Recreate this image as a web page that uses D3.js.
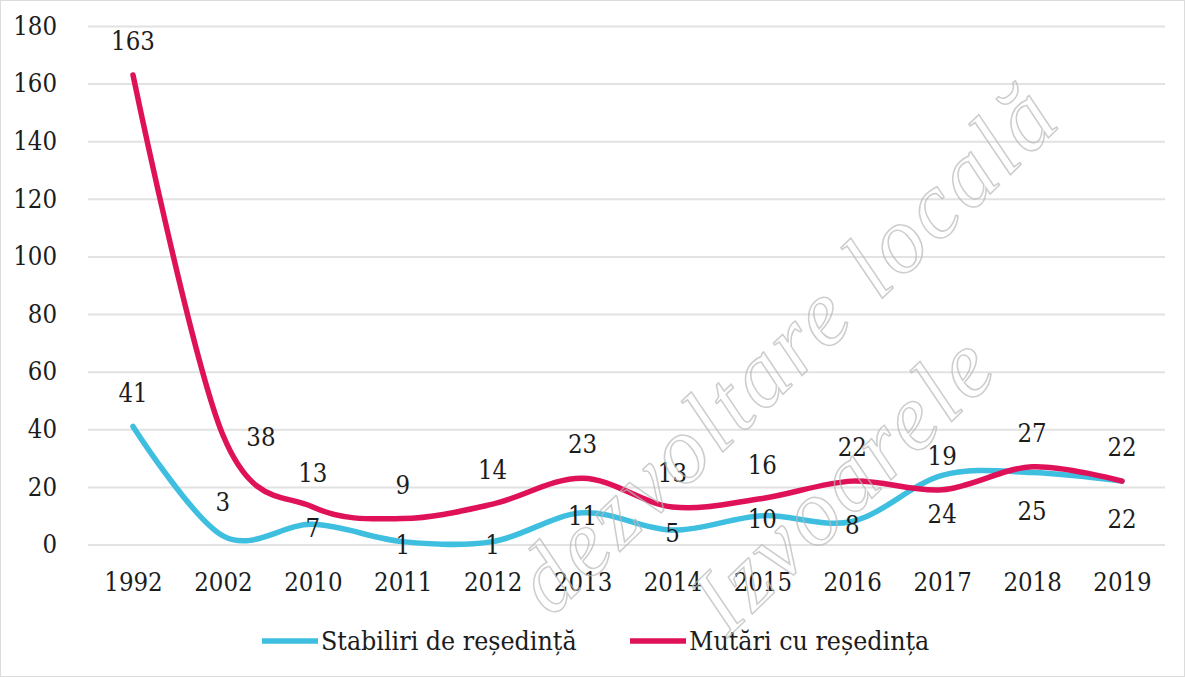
<!DOCTYPE html>
<html>
<head>
<meta charset="utf-8">
<script src="https://cdn.jsdelivr.net/npm/d3@7"></script>
<style>
  body { margin: 0; background: #fff; }
  svg { display: block; }
</style>
</head>
<body>
<div id="chart"></div>
<script>
(function() {
  'use strict';
  var years = ['1992', '2002', '2010', '2011', '2012', '2013', '2014', '2015', '2016', '2017', '2018', '2019'],
      stabiliri = [41, 3, 7, 1, 1, 11, 5, 10, 8, 24, 25, 22],
      mutari = [163, 38, 13, 9, 14, 23, 13, 16, 22, 19, 27, 22],
      yTicks = [0, 20, 40, 60, 80, 100, 120, 140, 160, 180],
      seriesNames = ['Stabiliri de reședință', 'Mutări cu reședința'];

  var width = 1185,
      height = 677,
      font = '"DejaVu Serif Condensed", "DejaVu Serif", serif',
      textColor = '#1c1c1c',
      colors = ['#3fbfe0', '#df1259'];

  var svg = d3.select('#chart').append('svg')
    .attr('width', width)
    .attr('height', height);

  var x = d3.scalePoint().domain(years).range([133, 1122]),
      y = d3.scaleLinear().domain([0, 180]).range([544.5, 26]);

  // Gridlines + y labels
  var grid = svg.append('g')
    .attr('transform', 'translate(88,0)')
    .call(d3.axisLeft(y).tickValues(yTicks).tickSize(-(1165 - 88)).tickPadding(31));
  grid.select('.domain').remove();
  grid.selectAll('.tick line')
    .attr('stroke', '#e2e2e2')
    .attr('stroke-width', 2);
  grid.selectAll('.tick text')
    .style('font-family', font)
    .style('font-size', '25.5px')
    .attr('fill', textColor);

  // X labels
  var xaxis = svg.append('g')
    .attr('transform', 'translate(0,' + y(0) + ')')
    .call(d3.axisBottom(x).tickSize(0).tickPadding(28));
  xaxis.select('.domain').remove();
  xaxis.selectAll('.tick text')
    .style('font-family', font)
    .style('font-size', '25.5px')
    .attr('fill', textColor);

  var line = d3.line()
    .x(function(d, i) { return x(years[i]); })
    .y(function(d) { return y(d); })
    .curve(d3.curveCardinal.tension(0));

  [stabiliri, mutari].forEach(function(s, k) {
    svg.append('path')
      .datum(s)
      .attr('d', line)
      .attr('fill', 'none')
      .attr('stroke', colors[k])
      .attr('stroke-width', 5.5)
      .attr('stroke-linecap', 'round')
      .attr('stroke-linejoin', 'round');
  });

  // Data labels: above for the red series, mixed for the blue one
  function labelPos(k, d, i) {
    var px = x(years[i]), py = y(d);
    if (k === 1) {
      if (i === 1) return [px + 38, py + 2];
      return [px, py - 34];
    }
    if (i <= 1) return [px, py - 34];
    if (i >= 9) return [px, py + 38];
    return [px, py + 3];
  }

  [stabiliri, mutari].forEach(function(s, k) {
    svg.append('g').selectAll('text')
      .data(s)
      .enter().append('text')
      .attr('text-anchor', 'middle')
      .attr('dy', '0.36em')
      .attr('x', function(d, i) { return labelPos(k, d, i)[0]; })
      .attr('y', function(d, i) { return labelPos(k, d, i)[1]; })
      .style('font-family', font)
      .style('font-size', '25.5px')
      .attr('fill', textColor)
      .text(function(d) { return d; });
  });

  // Legend
  var legend = svg.append('g');
  var legendX = [262, 630];
  seriesNames.forEach(function(name, k) {
    legend.append('line')
      .attr('x1', legendX[k]).attr('x2', legendX[k] + 56)
      .attr('y1', 641).attr('y2', 641)
      .attr('stroke', colors[k])
      .attr('stroke-width', 5.5);
    legend.append('text')
      .attr('x', legendX[k] + 59)
      .attr('y', 650)
      .style('font-family', font)
      .style('font-size', '26.5px')
      .attr('fill', textColor)
      .text(name);
  });

  // Watermark
  function watermark(txt, tx, ty, angle) {
    svg.append('text')
      .attr('text-anchor', 'middle')
      .attr('transform', 'translate(' + tx + ',' + ty + ') rotate(' + angle + ')')
      .style('font-family', '"Liberation Serif", serif')
      .style('font-style', 'italic')
      .style('font-size', '94px')
      .style('letter-spacing', '4px')
      .attr('fill', 'none')
      .attr('stroke', '#b8b8b8')
      .attr('stroke-width', 1.5)
      .attr('opacity', 0.7)
      .text(txt);
  }
  watermark('dezvoltare locală', 808, 370, -44);
  watermark('Izvoarele', 865, 505, -44);

  svg.append('rect')
    .attr('x', 0.5).attr('y', 0.5)
    .attr('width', width - 1).attr('height', height - 1)
    .attr('fill', 'none')
    .attr('stroke', '#dcdcdc');
})();
</script>
</body>
</html>
